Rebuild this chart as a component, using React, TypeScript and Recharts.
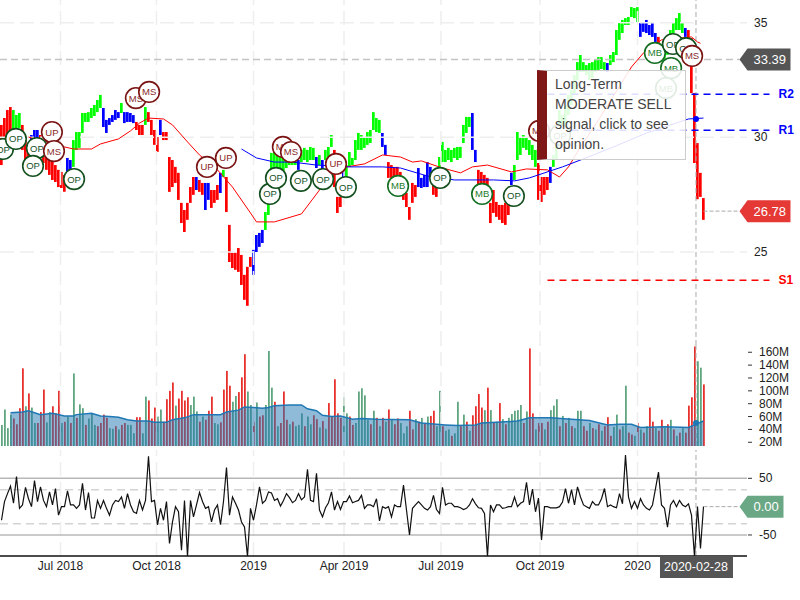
import { ComposedChart, Bar, Line, Area, Cell, XAxis, YAxis, ReferenceLine, ReferenceDot } from 'recharts';

// one session here is roughly two trading days
const highs = [
  30.54,30.84,31.19,31.32,31.19,30.97,31.06,30.54,29.88,29.67,
  30.10,30.32,30.32,30.10,29.45,29.36,29.23,29.01,28.79,28.58,
  28.49,28.36,29.10,29.01,29.88,30.23,30.23,31.06,31.06,31.10,
  31.28,31.41,31.63,31.85,31.28,30.76,30.84,30.97,31.19,31.10,
  31.50,31.10,31.10,31.06,30.97,30.67,30.54,30.54,31.32,31.10,
  30.76,30.32,30.01,30.76,30.23,30.23,29.14,29.01,28.71,28.45,
  27.14,26.83,27.14,27.83,28.27,28.27,28.14,28.01,28.01,28.01,
  27.70,27.70,27.92,28.45,28.58,28.27,26.18,24.96,24.96,25.17,
  24.87,24.00,24.35,24.78,25.09,25.74,25.83,25.96,26.74,27.70,
  29.32,29.45,29.23,29.14,29.23,29.36,29.45,29.32,29.23,29.01,
  29.45,29.54,29.45,29.58,29.54,29.14,29.23,29.01,29.45,29.58,
  30.10,29.45,27.40,27.40,28.66,28.79,29.36,29.10,29.88,30.19,
  30.10,30.01,30.23,30.32,31.10,30.84,30.76,30.19,29.67,28.92,
  28.79,28.71,28.71,28.49,28.01,27.57,26.96,28.01,27.92,28.66,
  28.23,28.36,28.92,28.71,27.92,28.14,29.14,29.80,29.45,29.54,
  29.45,29.54,29.58,29.58,30.54,30.89,30.89,31.06,29.45,28.58,
  28.49,28.36,28.23,27.14,27.70,27.18,27.05,27.05,27.14,27.14,
  28.45,28.79,30.23,29.97,30.10,29.97,29.88,29.67,29.45,28.88,
  28.27,28.27,28.27,28.71,29.23,29.88,31.19,30.97,31.41,31.85,
  32.06,32.72,33.28,33.59,33.28,33.15,33.24,33.28,33.37,33.50,
  33.50,33.28,33.24,33.59,33.72,34.68,34.98,35.12,35.20,35.25,
  35.68,35.64,35.68,34.98,35.03,35.12,34.90,34.98,34.55,34.38,
  33.90,33.80,34.20,34.68,34.98,35.20,35.42,35.03,34.77,34.68,
  34.33,31.93,29.75,28.45,27.35,
];
const lows = [
  28.79,29.45,29.88,30.32,30.32,30.41,30.41,29.45,28.88,28.79,
  29.45,29.67,29.67,29.45,28.88,28.58,28.36,28.14,28.05,27.83,
  27.79,27.62,28.49,28.58,28.71,29.45,29.54,30.19,30.67,30.67,
  30.84,30.93,31.10,31.28,30.45,30.19,30.54,30.67,30.76,30.84,
  31.06,30.62,30.67,30.67,30.62,30.32,30.10,30.10,30.54,30.67,
  30.10,29.67,29.36,30.10,29.88,29.88,27.62,27.83,28.01,27.27,
  26.26,25.87,26.40,27.14,27.49,27.70,27.62,27.49,26.83,27.27,
  26.92,27.14,27.27,27.57,28.27,26.74,24.56,24.30,24.22,24.13,
  23.56,22.91,22.65,24.35,24.00,25.00,25.22,25.39,25.96,26.61,
  28.58,28.71,28.58,28.45,28.49,28.66,28.79,28.79,28.79,28.58,
  28.92,29.01,28.92,29.01,29.01,28.66,28.79,28.58,29.01,29.14,
  29.58,27.83,26.70,26.96,28.14,28.23,28.71,28.79,29.01,29.45,
  29.45,29.54,29.67,29.75,30.32,30.23,30.19,29.58,29.23,28.23,
  28.23,28.27,28.23,27.70,27.27,26.96,26.40,27.14,27.40,27.83,
  27.79,27.83,27.83,28.23,27.49,27.40,28.58,28.92,28.92,29.01,
  28.92,29.10,29.01,29.10,29.75,30.19,30.45,29.45,28.92,27.83,
  27.92,27.83,27.70,26.26,26.70,26.53,26.40,26.26,26.18,26.61,
  27.92,28.14,29.01,29.23,29.54,29.45,29.23,29.01,28.71,27.27,
  27.18,27.49,27.70,28.01,28.71,29.01,30.19,30.32,30.54,30.97,
  31.41,31.85,32.50,32.85,32.85,32.72,32.50,32.59,32.85,32.94,
  32.98,32.94,32.85,33.15,33.28,33.59,34.25,34.55,34.90,34.90,
  35.25,35.20,35.03,34.38,34.60,34.55,34.46,34.38,34.16,33.94,
  33.30,33.30,33.60,34.16,34.55,34.68,34.68,34.55,34.38,34.33,
  31.93,28.88,27.30,27.40,26.40,
];
// r = bearish, g = bullish, b = neutral
const trend = [
  'rrrrgggrrr','bbbrrrrrrr','rrbbgggggg','ggggbbbbbb','gbbbbrrrgr','rrrbrrrrrr',
  'rrrrrbrrbb','rrrbgrrrrr','rrrrbbbbgg','gggggggggb','gggggbgbgg','grrrbggggg',
  'gggggggbbr','rrrrrrrrrb','bbbbrrgggg','gggggggbbr','rrrrrrrrrr','bggggggggr',
  'rrrbgggggg','gggggggggg','ggbggggggg','gggbbbbbbr','ggggggggbr','rrrrr',
].join('');

const volumes = [
  47,71,42,63,57,48,73,135,76,96,
  74,50,50,67,102,51,67,76,65,100,
  50,52,60,50,127,58,79,73,47,57,
  64,47,45,50,63,58,42,41,45,40,
  47,50,47,47,34,59,59,34,91,85,
  57,74,60,71,52,87,100,113,77,88,
  100,85,90,78,91,68,52,60,55,69,
  91,50,48,51,102,131,108,83,92,98,
  121,157,99,78,52,82,60,62,78,162,
  105,83,45,50,99,55,48,52,45,47,
  65,45,60,48,62,56,43,53,41,81,
  60,118,65,58,90,65,60,47,50,99,
  104,93,55,48,69,58,45,58,52,71,
  55,48,57,50,34,45,69,40,56,52,
  58,50,60,61,69,45,100,45,38,40,
  30,34,83,45,63,52,38,62,76,95,
  74,70,105,70,50,52,81,56,48,58,
  64,69,70,78,50,68,166,65,40,50,
  50,40,52,70,77,87,45,61,50,58,
  45,42,69,69,45,38,50,42,40,48,
  38,45,59,30,44,63,40,45,108,35,
  32,30,50,40,35,45,74,52,42,38,
  55,42,48,55,40,30,35,42,35,77,
  90,169,146,136,110,
];
const volumeUp = [
  '1111000010','1100011000','1010101101','1100001101','0011100110','0011000010',
  '0001110100','0110000110','0011010011','1010001011','1011001010','0000110011',
  '1110101010','1001110010','1010011011','0110101000','0101010101','1111010010',
  '0101110101','0111001010','1000110110','0101010010','0101010100','00110',
].join('');

const cciValues = [
  -24,9,23,36,6,53,-3,3,34,14,
  0,46,9,35,11,0,26,3,32,-15,
  0,0,28,3,3,-3,3,41,-6,25,
  -20,-20,11,-3,11,-3,-15,3,11,9,
  17,-3,23,3,-9,-12,11,-6,11,89,
  9,11,-32,-3,-24,9,-65,-27,0,-9,
  -77,11,-88,11,-18,3,25,9,-3,0,
  -27,-6,3,-32,9,69,-15,17,6,-6,
  -27,-36,-88,-3,-24,3,35,6,11,26,
  24,11,14,1,11,23,16,7,11,23,
  12,17,66,11,9,59,-6,-18,-2,7,
  26,-6,9,-5,9,9,19,7,9,11,
  20,-3,3,3,0,14,-25,0,-3,0,
  -18,3,0,0,38,-6,-50,-3,3,9,
  3,-3,-6,0,20,-5,-12,34,3,6,
  6,0,0,-2,-5,-3,3,14,5,-2,
  -3,-12,-88,3,-9,3,3,-3,-2,0,
  0,17,0,6,9,43,3,31,-9,15,
  -59,0,0,-2,-2,-2,0,8,32,6,
  30,3,35,17,3,0,-3,9,3,3,
  14,32,0,3,0,-2,23,5,91,17,
  -3,9,-3,14,3,-3,-6,3,32,61,
  3,-3,-36,3,11,0,11,3,0,5,
  -15,-88,0,-74,0,
];

const redMaSessions = [9,21,24,30,33,39,43,46,49,54,57,62,66,72,77,83,85,91,100,106,109,115,121,127,133,137,140,147,153,157,162,170,175,182,186,189,193,199,210,214,220,230,232,233];
const redMaValues = [30.01,29.58,29.49,29.49,29.71,29.93,30.28,30.62,30.84,30.80,30.54,29.80,29.23,28.58,27.83,26.70,26.31,26.31,26.66,27.70,28.45,28.71,28.84,29.23,29.14,28.92,28.97,28.66,28.45,28.71,28.79,28.49,28.62,28.58,28.27,28.71,29.58,30.76,33.07,33.68,34.25,34.38,34.16,34.10];
const blueMaSessions = [80,85,91,97,105,115,127,133,142,151,164,171,176,187,193,204,215,229,234];
const blueMaValues = [29.49,29.10,28.92,28.92,28.79,28.71,28.71,28.66,28.31,28.14,28.14,28.10,28.23,28.71,29.01,29.58,30.19,30.80,30.84];
const volMaSessions = [3,7,9,11,13,17,21,24,25,30,33,36,39,42,45,49,51,55,57,61,64,67,73,75,79,81,84,87,89,91,96,100,102,105,107,110,113,117,120,125,136,140,145,148,152,158,160,165,172,176,178,183,190,196,202,206,210,213,221,229,231,234];
const volMaValues = [66,67,69,66,63,65,61,61,63,65,61,60,59,55,53,53,51,51,55,58,63,63,63,67,70,75,74,73,74,77,78,78,72,69,62,60,61,56,57,56,55,50,48,47,46,47,50,51,53,58,58,58,56,54,47,48,48,43,44,43,47,53];

const signalSessions = [0.5,4.8,11.8,10.5,16.8,17.5,24.2,44.8,49.2,68.5,74.8,89.5,91.5,93.8,96.5,99.8,107.2,111.5,114.8,132.2,146.2,160.2,170.8,179.2,186.2,221.5,223.2,217.8,223.8,228.2,230.2];
const signalPrices = [29.49,29.93,29.53,28.75,30.23,29.40,28.18,31.71,31.98,28.71,29.10,27.53,28.23,29.58,29.36,28.10,28.18,28.84,27.83,27.88,28.23,27.53,27.44,30.28,30.10,32.15,33.02,33.68,34.07,33.89,33.55];
const signalKinds = ['OP','OP','OP','OP','UP','MS','OP','MS','MS','UP','UP','OP','OP','MS','MS','OP','OP','UP','OP','MB','OP','MB','OP','MS','OP','MB','MB','MB','OP','OP','MS'];

const priceTicks = [25, 30, 35];
const volumeTicks = [20, 40, 60, 80, 100, 120, 140, 160];
const cciTicks = [-50, 50];
const monthSessions = [19.67, 51.67, 84, 114.17, 146.5, 179.5, 212];
const monthLabels = ['Jul 2018', 'Oct 2018', '2019', 'Apr 2019', 'Jul 2019', 'Oct 2019', '2020'];

const R2 = 31.88;
const R1 = 30.31;
const S1 = 23.77;
const LAST_CLOSE = 26.78;
const PREV_CLOSE = 33.39;
const CCI_LAST = 0;
const LAST_DATE = '2020-02-28';

const FONT = '"Liberation Sans", Arial, sans-serif';
const X_DOMAIN: [number, number] = [-0.5, 266.17];
const VOLUME_DOMAIN: [number, number] = [14.2, 171.3];
const CROSS = 231.5; // session under the crosshair
const LAST = highs.length - 1;
const GRID_END = 248.5; // gridlines stop short of the labels
const TAG = 246;

const trendColor: Record<string, string> = { r: '#ff0000', g: '#00ff00', b: '#0000ff' };

const knotValue = (sessions: number[], values: number[], i: number) => {
  const at = sessions.indexOf(i);
  return at === -1 ? null : values[at];
};

const rows = highs.map((high, i) => ({
  session: i,
  range: [lows[i], high],
  volume: volumes[i],
  cci: cciValues[i],
  redMa: knotValue(redMaSessions, redMaValues, i),
  blueMa: knotValue(blueMaSessions, blueMaValues, i),
  volMa: knotValue(volMaSessions, volMaValues, i),
}));

const ringColors: Record<string, { ring: string; text: string }> = {
  OP: { ring: '#14501f', text: '#14501f' },
  MB: { ring: '#146e22', text: '#1a7d2a' },
  UP: { ring: '#7a1414', text: '#8a1c1c' },
  MS: { ring: '#7a1414', text: '#8a2a2a' },
};

const SignalBadge = ({ cx, cy, kind }: any) => {
  const c = ringColors[kind];
  return (
    <g>
      <circle cx={cx} cy={cy} r={10.3} fill="#fff" stroke={c.ring} strokeWidth={1.6} />
      <text x={cx} y={cy + 3.5} textAnchor="middle" fontSize={9.5} fontFamily={FONT} fill={c.text}>{kind}</text>
    </g>
  );
};

const PriceTag = ({ cx, cy, fill, width, value }: any) => (
  <g>
    <path
      d={`M${cx} ${cy} L${cx + 8} ${cy - 11} H${cx + width} V${cy + 11} H${cx + 8} Z`}
      fill={fill}
    />
    <text x={cx + 14} y={cy + 4.5} fontSize={13} fontFamily={FONT} fill="#fff">{value}</text>
  </g>
);

const SideTick = ({ y, payload, suffix, mark }: any) => (
  <g>
    {mark && <line x1={748} x2={752} y1={y} y2={y} stroke="#333" />}
    <text x={mark ? 759 : 754} y={y + 4} fontSize={12} fontFamily={FONT} fill="#222">
      {`${payload.value}${suffix || ''}`}
    </text>
  </g>
);

const MonthGrid = (y1: number, y2: number) =>
  monthSessions.map((s) => (
    <ReferenceLine
      key={s}
      segment={[{ x: s, y: y1 }, { x: s, y: y2 }]}
      stroke="#eeeeee"
      strokeWidth={1.5}
      strokeDasharray="14 6"
    />
  ));

const Crosshair = (y1: number, y2: number) => (
  <ReferenceLine
    segment={[{ x: CROSS, y: y1 }, { x: CROSS, y: y2 }]}
    stroke="#aaa"
    strokeDasharray="5 3"
  />
);

const LevelLine = (level: number, color: string, name: string) => [
  <ReferenceLine
    key={name}
    segment={[{ x: 182, y: level }, { x: 256, y: level }]}
    stroke={color}
    strokeWidth={1.5}
    strokeDasharray="7 5"
  />,
  <ReferenceDot
    key={`${name}-label`}
    x={259}
    y={level}
    ifOverflow="visible"
    shape={({ cx, cy }: any) => (
      <text x={cx} y={cy + 4} fontSize={12} fontWeight="bold" fontFamily={FONT} fill={color}>{name}</text>
    )}
  />,
];

const PricePane = () => (
  <ComposedChart width={800} height={345} data={rows} margin={{ top: 0, right: 0, bottom: 0, left: 0 }}>
    <XAxis dataKey="session" type="number" domain={X_DOMAIN} hide allowDataOverflow />
    <YAxis
      orientation="right"
      mirror
      domain={[20.94, 35.99]}
      ticks={priceTicks}
      interval={0}
      allowDataOverflow
      axisLine={false}
      tickLine={false}
      tick={<SideTick />}
    />
    {priceTicks.map((t) => (
      <ReferenceLine
        key={t}
        segment={[{ x: -0.5, y: t }, { x: GRID_END, y: t }]}
        stroke="#eeeeee"
        strokeWidth={1.5}
        strokeDasharray="14 6"
      />
    ))}
    {MonthGrid(20.94, 35.99)}
    <ReferenceLine
      segment={[{ x: -0.5, y: PREV_CLOSE }, { x: TAG, y: PREV_CLOSE }]}
      stroke="#c4c4c4"
      strokeWidth={1.5}
      strokeDasharray="7 4"
    />
    <ReferenceLine
      segment={[{ x: LAST, y: LAST_CLOSE }, { x: TAG, y: LAST_CLOSE }]}
      stroke="#aaa"
      strokeDasharray="4 2"
    />
    {Crosshair(20.94, 35.99)}
    <Bar dataKey="range" barSize={2.7} isAnimationActive={false}>
      {rows.map((r, i) => (
        <Cell key={r.session} fill={trendColor[trend[i]]} />
      ))}
    </Bar>
    <Line dataKey="redMa" stroke="#f00" strokeWidth={1} dot={false} connectNulls isAnimationActive={false} />
    <Line dataKey="blueMa" stroke="#00f" strokeWidth={1} dot={false} connectNulls isAnimationActive={false} />
    {LevelLine(R2, '#0000ff', 'R2')}
    {LevelLine(R1, '#0000ff', 'R1')}
    {LevelLine(S1, '#ff0000', 'S1')}
    {signalKinds.map((kind, i) => (
      <ReferenceDot
        key={i}
        x={signalSessions[i]}
        y={signalPrices[i]}
        ifOverflow="visible"
        shape={(p: any) => <SignalBadge cx={p.cx} cy={p.cy} kind={kind} />}
      />
    ))}
    <ReferenceDot x={CROSS} y={30.8} r={3} fill="#0000ff" stroke="none" ifOverflow="visible" />
    <ReferenceDot
      x={TAG}
      y={PREV_CLOSE}
      ifOverflow="visible"
      shape={(p: any) => <PriceTag cx={p.cx} cy={p.cy} fill="#555" width={51} value={PREV_CLOSE.toFixed(2)} />}
    />
    <ReferenceDot
      x={TAG}
      y={LAST_CLOSE}
      ifOverflow="visible"
      shape={(p: any) => <PriceTag cx={p.cx} cy={p.cy} fill="#e53935" width={51} value={LAST_CLOSE.toFixed(2)} />}
    />
  </ComposedChart>
);

const VolumePane = () => (
  <ComposedChart width={800} height={101} data={rows} margin={{ top: 0, right: 0, bottom: 0, left: 0 }}>
    <XAxis dataKey="session" type="number" domain={X_DOMAIN} hide allowDataOverflow />
    <YAxis
      orientation="right"
      mirror
      domain={VOLUME_DOMAIN}
      ticks={volumeTicks}
      interval={0}
      allowDataOverflow
      axisLine={false}
      tickLine={false}
      tick={<SideTick suffix="M" mark />}
    />
    {MonthGrid(14.2, 171.3)}
    {Crosshair(14.2, 171.3)}
    <Bar dataKey="volume" barSize={1.8} isAnimationActive={false}>
      {rows.map((r, i) => (
        <Cell key={r.session} fill={volumeUp[i] === '1' ? '#5fa57f' : '#e8302c'} />
      ))}
    </Bar>
  </ComposedChart>
);

// drawn as its own layer because the average has to tint the volume bars
const VolumeAveragePane = () => (
  <ComposedChart width={800} height={101} data={rows} margin={{ top: 0, right: 0, bottom: 0, left: 0 }}>
    <XAxis dataKey="session" type="number" domain={X_DOMAIN} hide allowDataOverflow />
    <YAxis domain={VOLUME_DOMAIN} hide allowDataOverflow />
    <Area
      dataKey="volMa"
      type="linear"
      stroke="#1f77b4"
      strokeWidth={1.5}
      fill="#1f77b4"
      fillOpacity={0.5}
      connectNulls
      dot={false}
      isAnimationActive={false}
    />
    <ReferenceDot x={CROSS} y={50} r={3} fill="#1f77b4" stroke="none" ifOverflow="visible" />
  </ComposedChart>
);

const CciPane = () => (
  <ComposedChart width={800} height={150} data={rows} margin={{ top: 0, right: 0, bottom: 0, left: 0 }}>
    <XAxis
      dataKey="session"
      type="number"
      domain={X_DOMAIN}
      allowDataOverflow
      height={44}
      ticks={monthSessions}
      interval={0}
      axisLine={false}
      tickLine={false}
      tickSize={3}
      tick={{ fontSize: 12, fontFamily: FONT, fill: '#222' }}
      tickFormatter={(v: number) => monthLabels[monthSessions.indexOf(v)]}
    />
    <YAxis
      orientation="right"
      mirror
      domain={[-87.1, 100]}
      ticks={cciTicks}
      interval={0}
      allowDataOverflow
      axisLine={false}
      tickLine={false}
      tick={<SideTick mark />}
    />
    {MonthGrid(-87.1, 100)}
    {[50, -50].map((t) => (
      <ReferenceLine
        key={t}
        segment={[{ x: -0.5, y: t }, { x: GRID_END, y: t }]}
        stroke="#b8b8b8"
        strokeWidth={1.5}
      />
    ))}
    {[30, -30].map((t) => (
      <ReferenceLine
        key={t}
        segment={[{ x: -0.5, y: t }, { x: GRID_END, y: t }]}
        stroke="#d4d4d4"
        strokeWidth={1.5}
        strokeDasharray="8 5"
      />
    ))}
    <ReferenceLine
      segment={[{ x: LAST, y: CCI_LAST }, { x: TAG, y: CCI_LAST }]}
      stroke="#aaa"
      strokeDasharray="4 2"
    />
    {Crosshair(-87.1, 100)}
    <ReferenceLine
      segment={[{ x: -0.5, y: -87.1 }, { x: GRID_END, y: -87.1 }]}
      stroke="#111"
      strokeWidth={1.5}
    />
    <Line dataKey="cci" stroke="#111" strokeWidth={1.2} dot={false} isAnimationActive={false} />
    <ReferenceDot
      x={TAG}
      y={CCI_LAST}
      ifOverflow="visible"
      shape={(p: any) => <PriceTag cx={p.cx} cy={p.cy} fill="#6aa885" width={44} value={CCI_LAST.toFixed(2)} />}
    />
    <ReferenceDot
      x={CROSS}
      y={-87.1}
      ifOverflow="visible"
      shape={({ cx, cy }: any) => (
        <g>
          <rect x={cx - 36} y={cy} width={73} height={22} fill="#555" />
          <text x={cx} y={cy + 15} textAnchor="middle" fontSize={12.5} fontFamily={FONT} fill="#fff">{LAST_DATE}</text>
        </g>
      )}
    />
  </ComposedChart>
);

const pane = (top: number): React.CSSProperties => ({ position: 'absolute', left: 0, top });

const App = () => (
  <div style={{ position: 'absolute', left: 0, top: 0, width: 800, height: 600, background: '#fff', overflow: 'hidden' }}>
    <div style={pane(0)}><PricePane /></div>
    <div style={pane(345)}><VolumePane /></div>
    <div style={pane(345)}><VolumeAveragePane /></div>
    <div style={pane(450)}><CciPane /></div>
    <div
      style={{
        position: 'absolute',
        left: 537,
        top: 70,
        width: 149,
        height: 90,
        boxSizing: 'border-box',
        background: 'rgba(255,255,255,0.87)',
        border: '1px solid #ccc',
        borderLeft: '10px solid #7f1717',
        padding: '3px 0 0 8px',
        font: `14px/20px ${FONT}`,
        color: '#444',
      }}
    >
      Long-Term<br />MODERATE SELL<br />signal, click to see<br />opinion.
    </div>
  </div>
);

export default App;
